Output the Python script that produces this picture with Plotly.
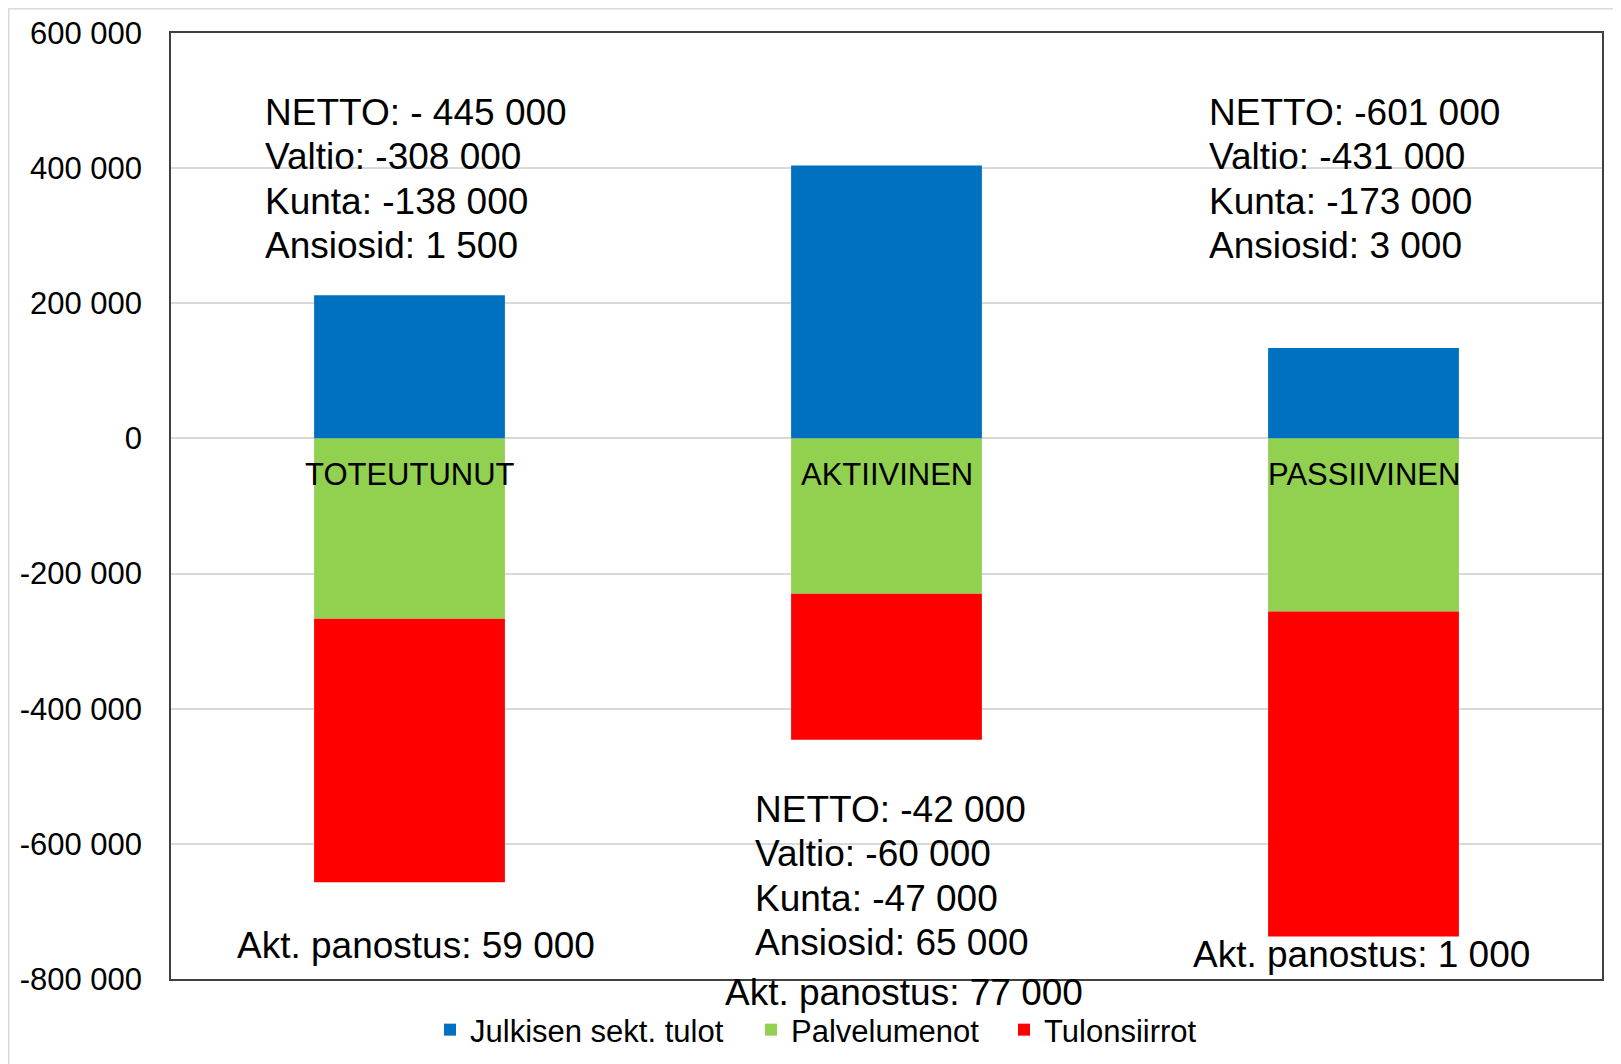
import plotly.graph_objects as go

# ---------------- data ----------------
categories = ["TOTEUTUNUT", "AKTIIVINEN", "PASSIIVINEN"]
julkisen_sekt_tulot = [212000, 404000, 134000]
palvelumenot = [-267000, -230000, -256000]
tulonsiirrot = [-390000, -216000, -481000]

series_names = ["Julkisen sekt. tulot", "Palvelumenot", "Tulonsiirrot"]
series_colors = ["#0070C0", "#92D050", "#FF0000"]

y_tick_values = [600000, 400000, 200000, 0, -200000, -400000, -600000, -800000]
y_tick_labels = ["600 000", "400 000", "200 000", "0", "-200 000", "-400 000", "-600 000", "-800 000"]

netto_labels = ["NETTO: - 445 000", "NETTO: -42 000", "NETTO: -601 000"]
valtio_labels = ["Valtio: -308 000", "Valtio: -60 000", "Valtio: -431 000"]
kunta_labels = ["Kunta: -138 000", "Kunta: -47 000", "Kunta: -173 000"]
ansiosid_labels = ["Ansiosid: 1 500", "Ansiosid: 65 000", "Ansiosid: 3 000"]
akt_labels = ["Akt. panostus: 59 000", "Akt. panostus: 77 000", "Akt. panostus: 1 000"]

# ---------------- layout geometry (pixels, figure coords) ----------------
W, H = 1613, 1056
L, R, T, B = 163, 1594, 25, 971
PW, PH = R - L, B - T
FONT = "Liberation Sans, Arial, Helvetica, sans-serif"


def px_x(p):
    return (p - L) / PW


def px_y(p):
    return (B - p) / PH


block_left_px = [256, 745.5, 1199.5]
block_first_line_px = [104.5, 801.5, 104.5]
line_step_px = 44.4
akt_left_px = [228, 715.5, 1184]
akt_center_px = [937, 984.5, 946]
legend_text_left_px = [462, 783, 1036]
legend_center_px = 1022

fig = go.Figure()
legend_ids = ["legend", "legend2", "legend3"]
for name, vals, col, lg in zip(series_names, [julkisen_sekt_tulot, palvelumenot, tulonsiirrot],
                               series_colors, legend_ids):
    fig.add_trace(go.Bar(
        x=categories, y=vals, name=name,
        marker=dict(color=col, line=dict(width=0)),
        hoverinfo="skip", legend=lg,
    ))

annotations = []
# category labels next to the zero axis
for c in categories:
    annotations.append(dict(
        x=c, y=0, xref="x", yref="y", text=c, showarrow=False,
        xanchor="center", yanchor="middle", yshift=-36,
        font=dict(family=FONT, size=31, color="black"),
    ))

# info text blocks
for i in range(3):
    lines = [netto_labels[i], valtio_labels[i], kunta_labels[i], ansiosid_labels[i]]
    for j, t in enumerate(lines):
        annotations.append(dict(
            x=px_x(block_left_px[i]), y=px_y(block_first_line_px[i] + j * line_step_px),
            xref="paper", yref="paper", text=t, showarrow=False,
            xanchor="left", yanchor="middle", borderpad=0,
            font=dict(family=FONT, size=37, color="black"),
        ))
    annotations.append(dict(
        x=px_x(akt_left_px[i]), y=px_y(akt_center_px[i]),
        xref="paper", yref="paper", text=akt_labels[i], showarrow=False,
        xanchor="left", yanchor="middle", borderpad=0,
        font=dict(family=FONT, size=37, color="black"),
    ))

shapes = [
    # outer chart frame (light grey)
    dict(type="rect", xref="paper", yref="paper",
         x0=px_x(0.5), x1=px_x(W + 10), y0=px_y(H + 10), y1=px_y(0.5),
         line=dict(color="#d9d9d9", width=2), fillcolor="rgba(0,0,0,0)", layer="below"),
]

legend_common = dict(
    orientation="h", xanchor="left", yanchor="middle",
    font=dict(family=FONT, size=31, color="black"),
    bgcolor="rgba(0,0,0,0)", borderwidth=0,
)

fig.update_layout(
    width=W, height=H,
    margin=dict(l=L, r=W - R, t=T, b=H - B, autoexpand=False),
    paper_bgcolor="white", plot_bgcolor="white",
    barmode="relative", bargap=0.6,
    font=dict(family=FONT, size=30, color="black"),
    showlegend=True,
    legend=dict(x=px_x(legend_text_left_px[0] - 40), y=px_y(legend_center_px), **legend_common),
    legend2=dict(x=px_x(legend_text_left_px[1] - 40), y=px_y(legend_center_px), **legend_common),
    legend3=dict(x=px_x(legend_text_left_px[2] - 40), y=px_y(legend_center_px), **legend_common),
    xaxis=dict(
        showticklabels=False, ticks="", showgrid=False,
        showline=True, linecolor="#404040", linewidth=1.5, mirror=True,
        fixedrange=True,
    ),
    yaxis=dict(
        range=[-800000, 600000],
        tickvals=y_tick_values, ticktext=y_tick_labels,
        ticks="", ticklabelstandoff=21,
        tickfont=dict(family=FONT, size=31, color="black"),
        showgrid=True, gridcolor="#d9d9d9", gridwidth=1.5,
        zeroline=True, zerolinecolor="#d9d9d9", zerolinewidth=1.5,
        showline=True, linecolor="#404040", linewidth=1.5, mirror=True,
        fixedrange=True,
    ),
    annotations=annotations,
    shapes=shapes,
)

fig.write_html("out.html")
